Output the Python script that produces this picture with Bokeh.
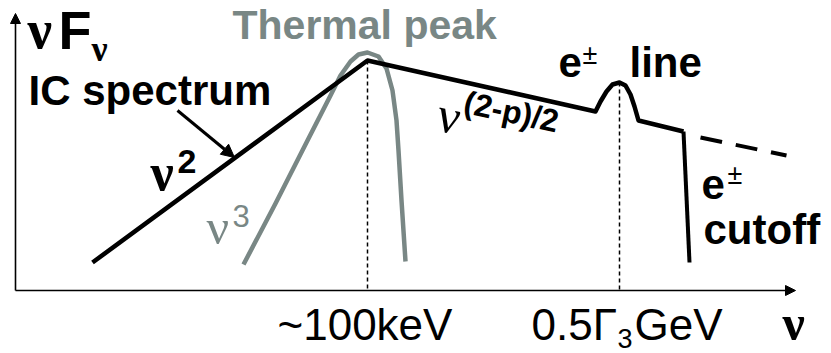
import math
from bokeh.plotting import figure
from bokeh.models import Range1d, Arrow, NormalHead
from bokeh.core.properties import value
from bokeh.embed import file_html
from bokeh.resources import INLINE

# --- schematic data (picture coordinates, y downward) ---
ic_x = [92, 367, 595, 600, 606, 612, 619, 625, 630, 634, 638, 683]
ic_y = [262, 60, 111, 101, 91, 84, 82, 85, 94, 106, 120, 131]
cut_x = [683, 689]
cut_y = [131, 262]
ext_x = [700, 786]
ext_y = [137, 155]
th_x = [243, 275, 307, 330, 340, 350, 358, 367, 378, 386, 392, 396, 398, 401, 405]
th_y = [264, 203, 140, 95, 75, 61, 54, 52, 56, 68, 90, 120, 150, 200, 261]
mark_x = [367, 619]
mark_top = [60, 82]
axis_base = 290
tick_labels = ["~100keV", "0.5\u0393", "3", "GeV"]

GRAY = "#798785"
SANS = value("Liberation Sans")
SERIF = value("Liberation Serif")
K = 0.31  # baseline correction (fraction of font size)

p = figure(width=831, height=353, output_backend="svg", toolbar_location=None,
           x_range=Range1d(0, 831), y_range=Range1d(353, 0), min_border=0)
p.axis.visible = False
p.grid.visible = False
p.outline_line_color = None
p.background_fill_color = "white"

# axes with arrows
p.add_layout(Arrow(end=NormalHead(size=10, fill_color="black", line_color="black"),
                   x_start=15, y_start=axis_base, x_end=795, y_end=axis_base,
                   line_width=1.6, line_color="black"))
p.add_layout(Arrow(end=NormalHead(size=10, fill_color="black", line_color="black"),
                   x_start=15, y_start=axis_base, x_end=15, y_end=13,
                   line_width=1.6, line_color="black"))

# dotted markers
for mx, mt in zip(mark_x, mark_top):
    p.line([mx, mx], [mt, axis_base], line_color="black", line_width=1.5, line_dash="4 3")

# thermal curve
p.line(th_x, th_y, line_color=GRAY, line_width=4.5, line_join="round")

# IC spectrum
p.line(ic_x, ic_y, line_color="black", line_width=4.5, line_join="round")
p.line(cut_x, cut_y, line_color="black", line_width=4)
p.line(ext_x, ext_y, line_color="black", line_width=4, line_dash="22 14")

# pointer arrow
p.add_layout(Arrow(end=NormalHead(size=13, fill_color="black", line_color="black"),
                   x_start=177, y_start=110, x_end=234, y_end=157,
                   line_width=3, line_color="black"))

def txt(x, y, s, size, font=SANS, style="bold", color="black", angle=0.0):
    d = K * size
    xx = x - d * math.sin(-angle)
    yy = y - d * math.cos(angle)
    p.text([xx], [yy], text=[s], text_font=font, text_font_style=style,
           text_font_size=f"{size}px", text_color=color, text_baseline="alphabetic",
           text_align="left", angle=angle)

# titles
txt(27, 46, "\u03bd", 55, font=SERIF)
txt(58, 46, "F", 54)
txt(91, 60, "\u03bd", 36, font=SERIF)
txt(232, 37, "Thermal peak", 41, color=GRAY)
txt(28, 103, "IC spectrum", 42)

# slopes
txt(150, 188, "\u03bd", 52, font=SERIF)
txt(177, 172, "2", 34)
txt(206, 242, "\u03bd", 50, font=SERIF, style="normal", color=GRAY)
txt(232, 225, "3", 31, style="normal", color=GRAY)
txt(441, 128, "\u03bd", 50, font=SERIF, style="normal", angle=-0.21)
txt(466, 111, "(2-p)/2", 32, angle=-0.21)

# line / cutoff labels
txt(558, 75, "e", 42)
txt(582, 63, "\u00b1", 27, style="normal")
txt(629, 75, "line", 42)
txt(701, 197, "e", 42)
txt(727, 183, "\u00b1", 27, style="normal")
txt(703, 242, "cutoff", 42)

# tick labels
txt(277, 338, tick_labels[0], 44, style="normal")
txt(531, 338, tick_labels[1], 44, style="normal")
txt(617, 346, tick_labels[2], 27, style="normal")
txt(634, 338, tick_labels[3], 44, style="normal")
txt(782, 338, "\u03bd", 50, font=SERIF)

open("out.html", "w").write(file_html(p, INLINE))
